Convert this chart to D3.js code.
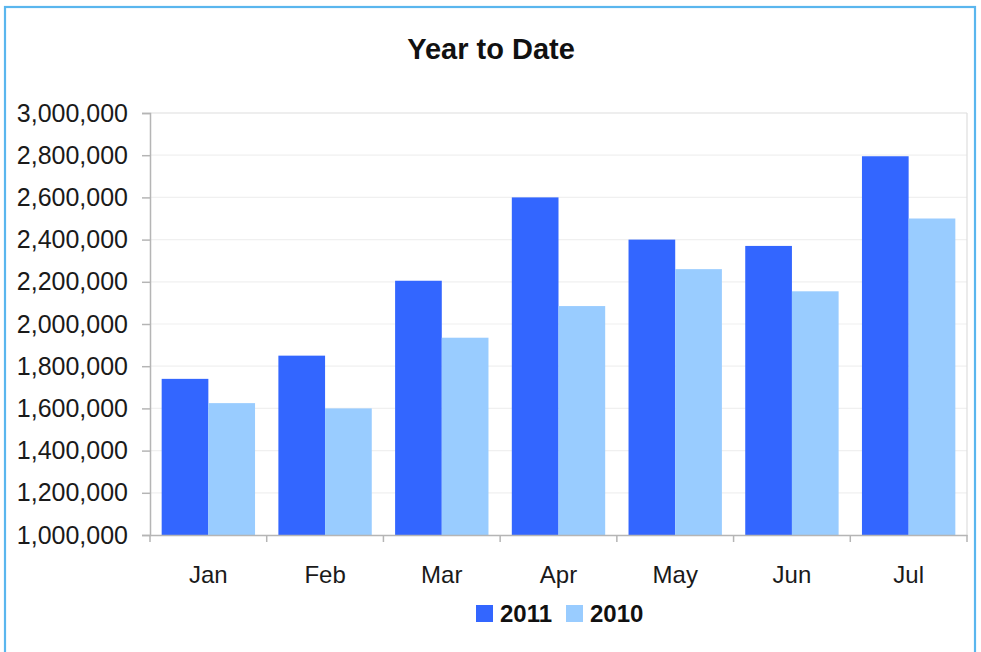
<!DOCTYPE html>
<html>
<head>
<meta charset="utf-8">
<script src="https://cdn.jsdelivr.net/npm/d3@7"></script>
<style>
  html, body { margin: 0; padding: 0; background: #fff; }
  svg { display: block; font-family: "Liberation Sans", Arial, sans-serif; }
</style>
</head>
<body>
<svg id="chart" width="981" height="652"></svg>
<script>
const months = ["Jan", "Feb", "Mar", "Apr", "May", "Jun", "Jul"];
const series = ["2011", "2010"];
const values2011 = [1740000, 1850000, 2205000, 2600000, 2400000, 2370000, 2795000];
const values2010 = [1625000, 1600000, 1935000, 2085000, 2260000, 2155000, 2500000];
const yTicks = [1000000, 1200000, 1400000, 1600000, 1800000, 2000000, 2200000, 2400000, 2600000, 2800000, 3000000];
const colors = ["#3366FF", "#99CCFF"];
const title = "Year to Date";

const data = months.map((m, i) => ({ month: m, vals: [values2011[i], values2010[i]] }));

const svg = d3.select("#chart");
const W = 981, H = 652;
const m = { left: 150, right: 14, top: 113, bottom: 117 };
const x0s = m.left, x1s = W - m.right, y0s = H - m.bottom, y1s = m.top;

// frame
svg.append("rect").attr("x", 5).attr("y", 7).attr("width", 970).attr("height", 660)
  .attr("fill", "none").attr("stroke", "#5AB6EE").attr("stroke-width", 2.2);

const x0 = d3.scaleBand().domain(months).range([x0s, x1s]).padding(0);
const x1 = d3.scaleBand().domain(series).range([0, x0.bandwidth()]).paddingInner(0).paddingOuter(0.25);
const y = d3.scaleLinear().domain([1000000, 3000000]).range([y0s, y1s]);

// gridlines
svg.append("g").selectAll("line").data(yTicks.slice(1)).join("line")
  .attr("x1", x0s).attr("x2", x1s)
  .attr("y1", d => y(d)).attr("y2", d => y(d))
  .attr("stroke", d => d === 3000000 ? "#dedede" : "#f0f0f0").attr("stroke-width", 1.2);
// right edge of plot
svg.append("line").attr("x1", x1s).attr("x2", x1s).attr("y1", y1s).attr("y2", y0s)
  .attr("stroke", "#dedede").attr("stroke-width", 1.2);

// bars
const groups = svg.append("g").selectAll("g").data(data).join("g")
  .attr("transform", d => `translate(${x0(d.month)},0)`);
groups.selectAll("rect").data(d => d.vals.map((v, i) => ({ key: series[i], v, i }))).join("rect")
  .attr("x", d => x1(d.key)).attr("width", x1.bandwidth())
  .attr("y", d => y(d.v)).attr("height", d => y0s - y(d.v))
  .attr("fill", d => colors[d.i]);

// y axis
const yAxis = d3.axisLeft(y).tickValues(yTicks).tickSize(8).tickPadding(14)
  .tickFormat(d3.format(",d"));
const gy = svg.append("g").attr("transform", `translate(${x0s},0)`).call(yAxis);
gy.select(".domain").attr("stroke", "#b5b5b5").attr("stroke-width", 1.5);
gy.selectAll(".tick line").attr("stroke", "#b5b5b5").attr("stroke-width", 1.5);
gy.selectAll(".tick text").attr("font-size", 25).attr("fill", "#1a1a1a")
  .attr("font-family", "'Liberation Sans', Arial, sans-serif");

// x axis
const xAxis = d3.axisBottom(x0).tickSize(0).tickPadding(31);
const gx = svg.append("g").attr("transform", `translate(0,${y0s})`).call(xAxis);
gx.select(".domain").attr("stroke", "#b5b5b5").attr("stroke-width", 1.5);
gx.selectAll(".tick text").attr("font-size", 24).attr("fill", "#1a1a1a")
  .attr("font-family", "'Liberation Sans', Arial, sans-serif");
// category boundary ticks
const bounds = months.map(mm => x0(mm)).concat([x1s]);
gx.append("g").selectAll("line").data(bounds).join("line")
  .attr("x1", d => d).attr("x2", d => d).attr("y1", 0).attr("y2", 7)
  .attr("stroke", "#b5b5b5").attr("stroke-width", 1.5);

// title
svg.append("text").attr("x", 491).attr("y", 59).attr("text-anchor", "middle")
  .attr("font-size", 29).attr("font-weight", "bold").attr("fill", "#111").text(title);

// legend
const legend = svg.append("g");
const legX = [476, 566];
series.forEach((s, i) => {
  legend.append("rect").attr("x", legX[i]).attr("y", 605).attr("width", 17).attr("height", 17)
    .attr("fill", colors[i]);
  legend.append("text").attr("x", legX[i] + 24).attr("y", 622).attr("font-size", 24)
    .attr("font-weight", "bold").attr("fill", "#111").text(s);
});
</script>
</body>
</html>
